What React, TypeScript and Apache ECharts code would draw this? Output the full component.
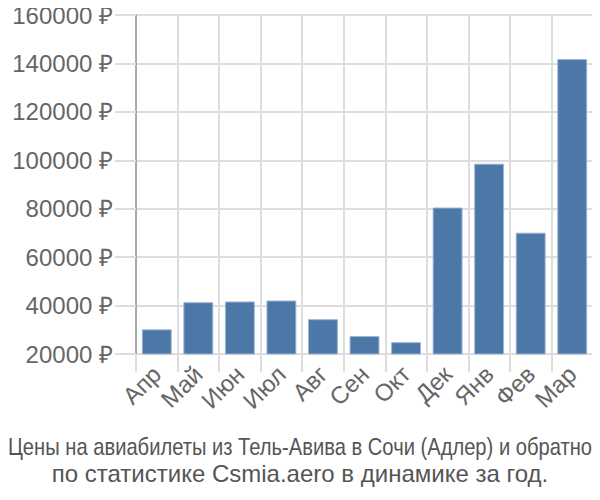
import React, { useEffect, useRef } from "react";
import * as echarts from "echarts";

const categories = ["Апр", "Май", "Июн", "Июл", "Авг", "Сен", "Окт", "Дек", "Янв", "Фев", "Мар"];
const prices = [30200, 41400, 41700, 42100, 34400, 27400, 24900, 80500, 98600, 70100, 141800];
const titleLines = [
  "Цены на авиабилеты из Тель-Авива в Сочи (Адлер) и обратно",
  "по статистике Csmia.aero в динамике за год.",
];

const FONT = "Liberation Sans";

export default function App() {
  const ref = useRef<HTMLDivElement>(null);
  useEffect(() => {
    const chart = echarts.init(ref.current!, null, { renderer: "svg" });
    chart.setOption({
      animation: false,
      graphic: [
        {
          type: "text",
          x: 300,
          y: 447,
          scaleX: 0.84,
          originX: 0,
          originY: 0,
          style: {
            text: titleLines[0],
            fontFamily: FONT,
            fontSize: 24,
            fill: "#555",
            textAlign: "center",
            textVerticalAlign: "middle",
          },
        },
        {
          type: "text",
          x: 300,
          y: 473,
          style: {
            text: titleLines[1],
            fontFamily: FONT,
            fontSize: 24,
            fill: "#555",
            textAlign: "center",
            textVerticalAlign: "middle",
          },
        },
      ],
      grid: { left: 136, right: 7, top: 15, bottom: 146 },
      xAxis: {
        type: "category",
        data: categories,
        axisLine: { show: false },
        axisTick: { show: true, length: 18, lineStyle: { color: "#ddd", width: 2 } },
        splitLine: { show: true, lineStyle: { color: "#ddd", width: 2 } },
        axisLabel: {
          interval: 0,
          rotate: 45,
          color: "#666",
          fontSize: 24,
          fontFamily: FONT,
          margin: 16,
        },
      },
      yAxis: {
        type: "value",
        min: 20000,
        max: 160000,
        interval: 20000,
        axisLine: { show: true, lineStyle: { color: "#aaa", width: 2 } },
        axisTick: { show: true, length: 21, lineStyle: { color: "#ddd", width: 2 } },
        splitLine: { show: true, lineStyle: { color: "#ddd", width: 2 } },
        axisLabel: {
          color: "#666",
          fontSize: 24,
          fontFamily: FONT,
          margin: 23,
          formatter: (v: number) => v + " ₽",
        },
      },
      series: [
        {
          type: "bar",
          data: prices,
          barCategoryGap: "28%",
          itemStyle: { color: "#4c78a8", borderColor: "#9db6d3", borderWidth: 1 },
        },
      ],
    });
    return () => chart.dispose();
  }, []);
  return <div ref={ref} style={{ width: 600, height: 500, margin: -8 }} />;
}
